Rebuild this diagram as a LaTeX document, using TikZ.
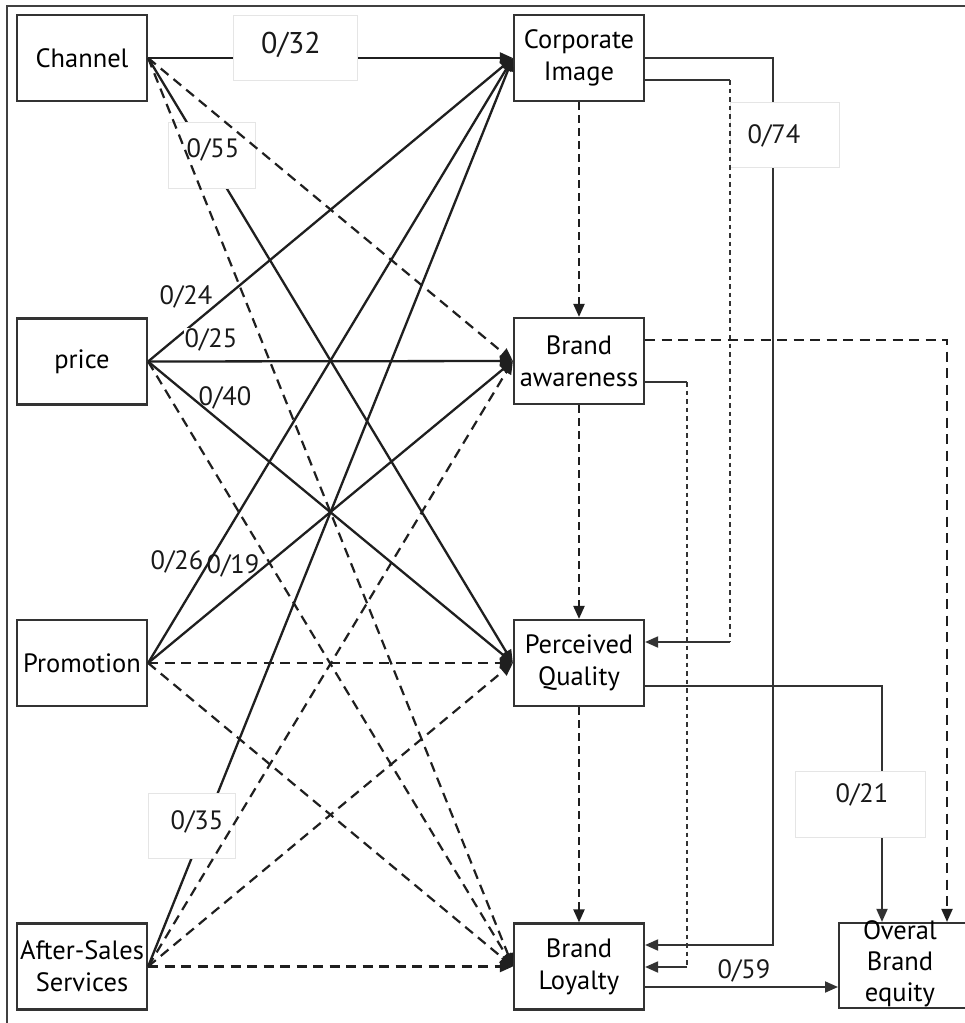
\documentclass[tikz,border=0pt]{standalone}
\usepackage{fontspec}
\setmainfont{PT Sans}
\usetikzlibrary{arrows.meta}
\begin{document}
\begin{tikzpicture}[x=1pt,y=-1pt,
  box/.style={draw=black!80, line width=2.2pt, minimum width=130pt, minimum height=86pt, inner sep=0pt, align=center, font=\fontsize{26.5}{32}\selectfont, fill=white},
  tip/.style={-{Triangle[length=13pt,width=11pt]}},
  solidarrow/.style={line width=2.3pt, draw=black!88, tip},
  dasharrow/.style={solidarrow, line width=2.2pt, dash pattern=on 10pt off 6.5pt},
  vdash/.style={solidarrow, line width=2.2pt, dash pattern=on 8pt off 5pt},
  lbl/.style={font=\fontsize{26.5}{30}\selectfont, inner sep=1pt, text=black!90},
  biglbl/.style={font=\fontsize{30}{34}\selectfont, inner sep=1pt, text=black!90},
  lblbox/.style={draw=black!10, line width=0.8pt, fill=white, inner sep=0pt},
  feed/.style={line width=1.9pt, draw=black!80},
  dotline/.style={feed, dash pattern=on 4.5pt off 4pt},
]
\useasboundingbox (0,0) rectangle (965,1023);
\clip (0,0) rectangle (965,1023);
\fill[white] (0,0) rectangle (965,1023);
\draw[line width=1.6pt, black!75] (7,1023) -- (7,6) -- (965,6);

% boxes
\node[box] (ch) at (82,58) {Channel};
\node[box] (pr) at (82,361.5) {price};
\node[box] (pm) at (82,663) {Promotion};
\node[box] (as) at (82,966.5) {After-Sales\\Services};
\node[box] (ci) at (579,58) {Corporate\\Image};
\node[box] (ba) at (579,361) {Brand\\awareness};
\node[box] (pq) at (579,663) {Perceived\\Quality};
\node[box] (bl) at (579,966.5) {Brand\\Loyalty};
\node[box, minimum width=170pt, minimum height=85pt, anchor=west] (oe) at (838,965.5) {};
\node[font=\fontsize{26.5}{31}\selectfont, align=center, inner sep=0pt] (oetext) at (900,964) {Overal\\Brand\\equity};

% solid source lines
\draw[solidarrow] (ch.east) -- (ci.west);
\draw[solidarrow] (ch.east) -- (pq.west);
\draw[solidarrow] (pr.east) -- (ci.west);
\draw[solidarrow] (pr.east) -- (ba.west);
\draw[solidarrow] (pr.east) -- (pq.west);
\draw[solidarrow] (pm.east) -- (ci.west);
\draw[solidarrow] (pm.east) -- (ba.west);
\draw[solidarrow] (as.east) -- (ci.west);

% right side connectors
\coordinate (ciA) at (773,58);
\coordinate (ciB) at (773,945);
\draw[feed, tip] (ci.east) -- (ciA) -- (ciB) -- (bl.east |- ciB);
\coordinate (k1) at (730,80);
\coordinate (k2) at (730,642);
\draw[feed] (ci.east |- k1) -- (k1);
\draw[feed, tip] (k2) -- (pq.east |- k2);
\coordinate (n1) at (687,382);
\coordinate (n2) at (687,967);
\draw[feed] (ba.east |- n1) -- (n1);
\draw[feed, tip] (n2) -- (bl.east |- n2);
\coordinate (p1) at (882,686);
\draw[feed, tip] (pq.east |- p1) -- (p1) -- (p1 |- oe.north);
\coordinate (q1) at (700,987);
\draw[feed, tip] (bl.east |- q1) -- (oe.west |- q1);

% label boxes
\node[lblbox, minimum width=124pt, minimum height=65pt] (b32) at (295,47.5) {};
\node[lblbox, minimum width=87pt, minimum height=66pt] (b55) at (211.5,155) {};
\node[lblbox, minimum width=87pt, minimum height=65pt] (b35) at (191.5,825.5) {};
\node[lblbox, minimum width=109pt, minimum height=65pt] (b74) at (784.5,134.5) {};
\node[lblbox, minimum width=130pt, minimum height=66pt] (b21) at (860,804) {};

% dashed lines
\draw[dasharrow] (ch.east) -- (ba.west);
\draw[dasharrow] (ch.east) -- (bl.west);
\draw[dasharrow] (pr.east) -- (bl.west);
\draw[dasharrow] (pm.east) -- (pq.west);
\draw[dasharrow] (pm.east) -- (bl.west);
\draw[dasharrow] (as.east) -- (ba.west);
\draw[dasharrow] (as.east) -- (pq.west);
\draw[dasharrow] (as.east) -- (bl.west);

\draw[dotline] (k1) -- (k2);
\draw[dotline] (n1) -- (n2);
\coordinate (m1) at (947,340);
\draw[dasharrow, line width=2pt] (ba.east |- m1) -- (m1) -- (m1 |- oe.north);

\draw[vdash] (ci) -- (ba);
\draw[vdash] (ba) -- (pq);
\draw[vdash] (pq) -- (bl);

% labels
\node[biglbl] (t32) at (291,45) {0/32};
\node[lbl] (t55) at (213,150) {0/55};
\node[lbl] (t24) at (186,297) {0/24};
\node[lbl, fill=white] (t25) at (211,340) {0/25};
\node[lbl] (t40) at (225,398) {0/40};
\node[lbl] (t26) at (177,562) {0/26};
\node[lbl] (t19) at (233,566) {0/19};
\node[lbl] (t35) at (197,822) {0/35};
\node[lbl] (t74) at (774,136) {0/74};
\node[lbl] (t21) at (862,795) {0/21};
\node[lbl] (t59) at (744,971) {0/59};
\end{tikzpicture}
\end{document}
